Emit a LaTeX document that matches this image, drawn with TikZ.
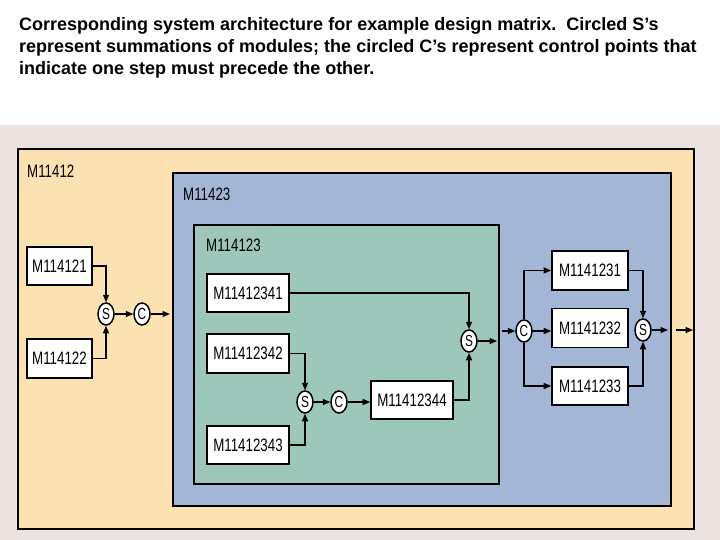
\documentclass[tikz,border=0pt]{standalone}
\usepackage{fontspec}
\setmainfont{Liberation Sans}
\newfontfamily\condfont[FakeStretch=0.74]{Liberation Sans}
\usetikzlibrary{arrows.meta,shapes.geometric}
\definecolor{bgpink}{RGB}{236,227,225}
\definecolor{peach}{RGB}{252,226,178}
\definecolor{bluebox}{RGB}{163,182,214}
\definecolor{greenbox}{RGB}{156,199,186}
\tikzset{
  x=1pt,y=-1pt,
  container/.style={draw=black,line width=1.8pt,anchor=north west,inner sep=0pt},
  clabel/.style={anchor=west,font=\condfont\fontsize{18}{20}\selectfont,inner sep=0pt},
  module/.style={draw=black,fill=white,line width=1.6pt,inner sep=0pt,font=\condfont\fontsize{18}{20}\selectfont},
  pt/.style={ellipse,draw=black,fill=white,line width=1.5pt,minimum width=16pt,minimum height=22pt,inner sep=0pt,font=\condfont\fontsize{16}{18}\selectfont},
  arr/.style={line width=1.2pt,-{Triangle[length=7.5pt,width=6pt]}},
  title/.style={anchor=base west,inner sep=0pt,font=\bfseries\fontsize{18}{22}\selectfont}
}
\begin{document}
\begin{tikzpicture}
\useasboundingbox (0,0) rectangle (720,540);
\fill[white] (0,0) rectangle (720,540);
\fill[bgpink] (0,125) rectangle (720,540);
% title
\node[title] (t1) at (19,31) {Corresponding system architecture for example design matrix.\ \ Circled S’s};
\node[title] (t2) at (19,53) {represent summations of modules; the circled C’s represent control points that};
\node[title] (t3) at (19,75) {indicate one step must precede the other.};
% containers
\node[container,fill=peach,minimum width=676pt,minimum height=380pt] (o) at (17,148) {};
\node[clabel] (ol) at (27,171) {M11412};
\node[container,fill=bluebox,minimum width=498pt,minimum height=333pt] (b) at (172,172) {};
\node[clabel] (bl) at (183,194) {M11423};
\node[container,fill=greenbox,minimum width=305pt,minimum height=259pt] (g) at (193,224) {};
\node[clabel] (gl) at (206,245) {M114123};
% modules
\node[module,minimum width=65pt,minimum height=38pt] (m21) at (59.5,266) {M114121};
\node[module,minimum width=65pt,minimum height=39pt] (m22) at (59.5,358.5) {M114122};
\node[module,minimum width=82pt,minimum height=38pt] (m41) at (248,293) {M11412341};
\node[module,minimum width=82pt,minimum height=39pt] (m42) at (248,353.5) {M11412342};
\node[module,minimum width=82pt,minimum height=38pt] (m43) at (248,445) {M11412343};
\node[module,minimum width=82pt,minimum height=38pt] (m44) at (412,400) {M11412344};
\node[module,minimum width=76pt,minimum height=39pt] (m31) at (590,270.5) {M1141231};
\node[module,minimum width=76pt,minimum height=39pt] (m32) at (590,328) {M1141232};
\node[module,minimum width=76pt,minimum height=38pt] (m33) at (590,386) {M1141233};
% points
\node[pt] (s1) at (106,314) {S};
\node[pt] (c1) at (142,314) {C};
\node[pt] (s2) at (305,402) {S};
\node[pt] (c2) at (339,402) {C};
\node[pt] (s3) at (469,341) {S};
\node[pt] (c3) at (524,331) {C};
\node[pt] (s4) at (643,330) {S};
\coordinate (e1) at (170,314);
\coordinate (e3) at (497,341);
\coordinate (e3b) at (502,331);
\coordinate (e4) at (668,330);
\coordinate (e5a) at (676,330);
\coordinate (e5b) at (693,330);
% connectors
\draw[arr] (m21) -| (s1);
\draw[arr] (m22) -| (s1);
\draw[arr] (s1) -- (c1);
\draw[arr] (c1) -- (e1);
\draw[arr] (m42) -| (s2);
\draw[arr] (m43) -| (s2);
\draw[arr] (s2) -- (c2);
\draw[arr] (c2) -- (c2 -| m44.west);
\draw[arr] (m41) -| (s3);
\draw[arr] (m44) -| (s3);
\draw[arr] (s3) -- (e3);
\draw[arr] (e3b) -- (c3);
\draw[arr] (c3) |- (m31);
\draw[arr] (c3) -- (c3 -| m32.west);
\draw[arr] (c3) |- (m33);
\draw[arr] (m31) -| (s4);
\draw[arr] (m33) -| (s4);
\draw[arr] (s4) -- (e4);
\draw[arr] (e5a) -- (e5b);
\end{tikzpicture}
\end{document}
